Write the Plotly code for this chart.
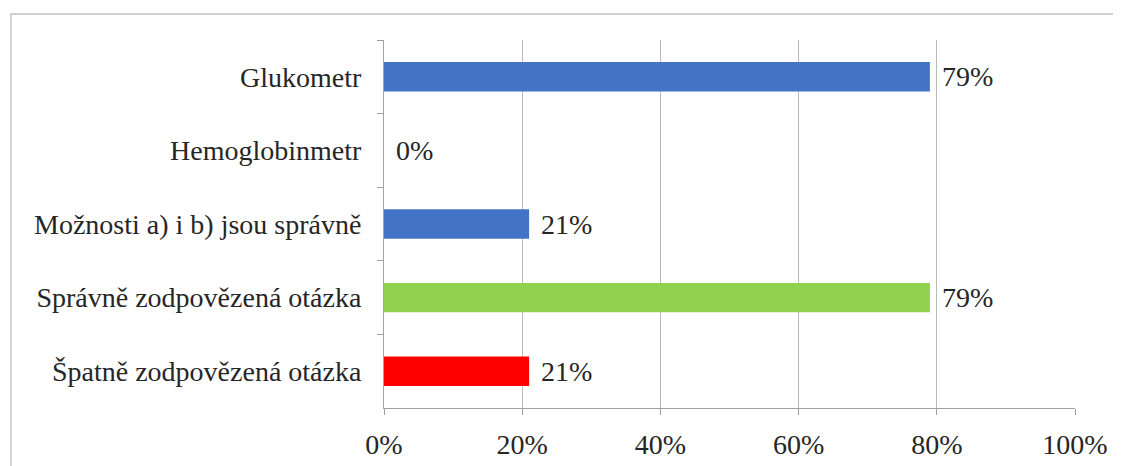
import plotly.graph_objects as go

categories = ["Glukometr", "Hemoglobinmetr", "Možnosti a) i b) jsou správně",
              "Správně zodpovězená otázka", "Špatně zodpovězená otázka"]
values = [79, 0, 21, 79, 21]
labels = ["79%", "0%", "21%", "79%", "21%"]
colors = ["#4472C4", "#4472C4", "#4472C4", "#92D050", "#FF0000"]
x_ticks = [0, 20, 40, 60, 80, 100]
x_tick_labels = ["0%", "20%", "40%", "60%", "80%", "100%"]

OFF = 8  # page offset of the plot div
W, H = 1121, 466
L, R, T, B = 384 - OFF, 46 + OFF, 40 - OFF, 58 + OFF
pw, ph = W - L - R, H - T - B


def mkfont():
    return dict(family="Liberation Serif, Times New Roman, serif", size=28, color="#262626")


fig = go.Figure(go.Bar(
    x=values, y=categories, orientation="h",
    marker=dict(color=colors, line=dict(width=0)),
    width=0.4, hoverinfo="skip",
))

for c, v, t in zip(categories, values, labels):
    fig.add_annotation(x=v, y=c, text=t, showarrow=False, xanchor="left",
                       yanchor="middle", xshift=10, font=mkfont())

fig.add_shape(type="rect", xref="paper", yref="paper",
              x0=(11 - OFF - L) / pw, x1=(W + 4 - L) / pw,
              y0=(H - B - (H + 4)) / ph, y1=(H - B - (14 - OFF)) / ph,
              line=dict(color="#BFBFBF", width=1.3), fillcolor="rgba(0,0,0,0)", layer="below")

fig.update_layout(
    width=W, height=H,
    margin=dict(l=L, r=R, t=T, b=B),
    paper_bgcolor="white", plot_bgcolor="white",
    showlegend=False,
    xaxis=dict(range=[0, 100], tickvals=x_ticks, ticktext=x_tick_labels,
               showgrid=True, gridcolor="#BABABA", gridwidth=1,
               showline=True, linecolor="#A0A0A0", linewidth=1,
               ticks="outside", ticklen=6, tickcolor="#A0A0A0",
               zeroline=False, tickfont=mkfont(), ticklabelstandoff=5, fixedrange=True),
    yaxis=dict(categoryorder="array", categoryarray=categories, autorange="reversed",
               showgrid=False, showline=True, linecolor="#A0A0A0", linewidth=1,
               ticks="outside", ticklen=6, tickcolor="#A0A0A0", tickson="boundaries",
               tickfont=mkfont(), ticklabelstandoff=16, zeroline=False, fixedrange=True),
)

fig.write_html("out.html")
